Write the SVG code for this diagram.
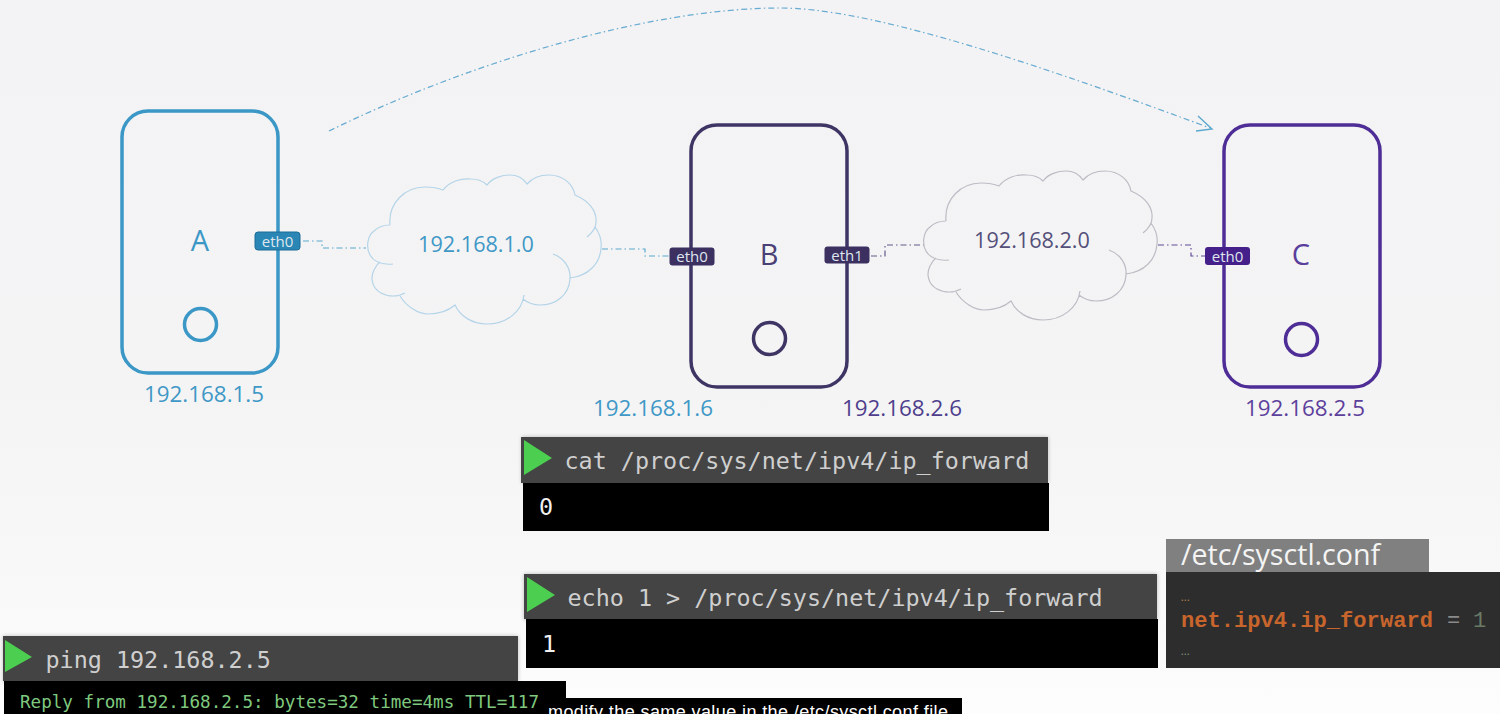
<svg xmlns="http://www.w3.org/2000/svg" width="1500" height="714" viewBox="0 0 1500 714">
<style>
.lbl{font-family:"Open Sans","Noto Sans",sans-serif}
.mono{font-family:"DejaVu Sans Mono",monospace;font-size:23.4px;fill:#cfcfcf}
.box{fill:none;stroke-width:3.5}
.conn{fill:none;stroke-width:1.2;stroke-dasharray:6 3 1.500 3;opacity:.85}
.cloud{fill:none;stroke-width:1.2}
.tag{font-family:"Open Sans","Noto Sans",sans-serif;font-size:15px;fill:#dfe6ee;text-anchor:middle}
.ip{font-family:"Open Sans","Noto Sans",sans-serif;font-size:22.400px;text-anchor:middle}
.cip{font-family:"Open Sans","Noto Sans",sans-serif;font-size:21.600px;text-anchor:middle}
.name{font-family:"Open Sans","Noto Sans",sans-serif;font-size:29px;text-anchor:middle}
</style>
<defs>
<linearGradient id="bg" x1="0" y1="0" x2="0" y2="1"><stop offset="0" stop-color="#f3f3f5"/><stop offset="0.55" stop-color="#f4f4f5"/><stop offset="0.8" stop-color="#f8f8f8"/><stop offset="1" stop-color="#fdfdfd"/></linearGradient>
<filter id="sh" x="-2%" y="-10%" width="104%" height="120%"><feGaussianBlur stdDeviation="2"/></filter>
<path id="cloudShape" d="M390 225C388 203 405 187 425 187C432 187 438 188 443 190C450 181 462 178 471 179C477 179 483 181 487 185C492 178 502 175 510 175C517 175 523 178 527 184C533 177 541 175 549 175C563 175 573 184 575 195C589 201 597 211 596 222C596 227 592 233 587 237M595 227C600 234 602 241 601 248C600 264 588 276 570 278M553 254C564 258 571 268 570 279C569 295 556 305 540 305C533 305 528 303 523 299M524 295C522 312 506 324 487 324C472 324 460 316 455 305C448 311 440 314 428 314C418 314 406 306 400 296M405 293C398 297 388 297 381 293C372 288 370 278 374 270C376 267 377 264 380 262M393 264C383 265 374 262 370 255C366 248 367 236 374 231C379 226 385 225 390 225"/>
</defs>
<rect width="1500" height="714" fill="url(#bg)"/>
<g id="connectors">
<path class="conn" stroke="#3f9cc8" d="M303 241H322V248H366"/>
<path class="conn" stroke="#3f9cc8" d="M602 249H645V256H669"/>
<path class="conn" stroke="#4a3f78" d="M871 256H885V245H924"/>
<path class="conn" stroke="#4a2d8c" d="M1158 245H1191V256H1205"/>
<path class="conn" stroke="#4f9fca" stroke-width="1.5" d="M329 131C470 62 650 8 780 8C860 8 1000 50 1210 128"/>
<path fill="none" stroke="#5ba8cf" stroke-width="1.4" d="M1198 116L1212 129L1196 131"/>
</g>
<g id="node-a">
<rect class="box" stroke="#3b97c6" x="122" y="111" width="156" height="262" rx="26"/>
<circle class="box" stroke="#3b97c6" cx="200.500" cy="324.500" r="16"/>
<text class="name" fill="#3b97c6" x="200" y="251">A</text>
<rect x="255" y="232" width="45" height="18" rx="3" fill="#2a86b4" stroke="#1c6c96"/>
<text class="tag" x="277.500" y="247">eth0</text>
<text class="ip" fill="#3f98c6" x="204" y="402">192.168.1.5</text>
</g>
<g id="cloud-1">
<use href="#cloudShape" class="cloud" stroke="#b4d4e8"/>
<text class="cip" fill="#3f98c6" x="476" y="252">192.168.1.0</text>
</g>
<g id="node-b">
<rect class="box" stroke="#3f3565" x="691" y="125" width="156" height="262" rx="26"/>
<circle class="box" stroke="#3f3565" cx="769.500" cy="338.500" r="16"/>
<text class="name" fill="#4a4075" x="769" y="265">B</text>
<rect x="669.500" y="247.500" width="45" height="18" rx="3" fill="#3b3060"/>
<text class="tag" x="692" y="262">eth0</text>
<rect x="824.500" y="246.500" width="45" height="17" rx="3" fill="#3b3060"/>
<text class="tag" x="847" y="261">eth1</text>
<text class="ip" fill="#3f98c6" x="653" y="416">192.168.1.6</text>
<text class="ip" fill="#4f3e8c" x="902" y="416">192.168.2.6</text>
</g>
<g id="cloud-2" transform="translate(556 -4)">
<use href="#cloudShape" class="cloud" stroke="#bcbcc4"/>
<text class="cip" fill="#55507a" x="476" y="252">192.168.2.0</text>
</g>
<g id="node-c">
<rect class="box" stroke="#4f2d96" x="1224" y="125" width="156" height="262" rx="26"/>
<circle class="box" stroke="#4f2d96" cx="1301.500" cy="339.500" r="16"/>
<text class="name" fill="#5a3e9c" x="1301" y="265">C</text>
<rect x="1205" y="247" width="45" height="18" rx="3" fill="#45208a"/>
<text class="tag" x="1227.500" y="262">eth0</text>
<text class="ip" fill="#5d3f9c" x="1305" y="416">192.168.2.5</text>
</g>
<g id="terminal-cat">
<rect x="522" y="437" width="526" height="46" fill="#000" opacity=".25" filter="url(#sh)"/>
<rect x="521" y="437" width="527" height="46" fill="#444"/>
<rect x="523" y="483" width="526" height="48" fill="#000"/>
<path d="M524 440L552 458L524 475Z" fill="#4ccf50"/>
<text class="mono" x="564.500" y="469">cat /proc/sys/net/ipv4/ip_forward</text>
<text class="mono" style="fill:#f0f0f0" x="539" y="515">0</text>
</g>
<g id="terminal-echo">
<rect x="524" y="574" width="633" height="46" fill="#000" opacity=".25" filter="url(#sh)"/>
<rect x="524" y="574" width="633" height="45" fill="#444"/>
<rect x="526" y="619" width="632" height="49" fill="#000"/>
<path d="M527 577L555 595L527 612Z" fill="#4ccf50"/>
<text class="mono" x="567.500" y="606">echo 1 &gt; /proc/sys/net/ipv4/ip_forward</text>
<text class="mono" style="fill:#f0f0f0" x="542" y="652">1</text>
</g>
<g id="file-sysctl">
<rect x="1166" y="539" width="263" height="33" fill="#808080"/>
<rect x="1166" y="572" width="334" height="96" fill="#2d2d2d"/>
<text class="lbl" x="1181" y="565" font-size="28.600" fill="#f4f4f4">/etc/sysctl.conf</text>
<g font-family="'Liberation Mono',monospace" font-size="22.100px">
<text x="1181" y="601" font-family="'Liberation Sans',sans-serif" font-weight="bold" font-size="9" letter-spacing="0.500" fill="#a87a4a">...</text>
<text x="1181" y="627" font-weight="bold" fill="#c8652c">net.ipv4.ip_forward</text>
<text x="1447" y="627" fill="#8a8a8a">=</text>
<text x="1473" y="627" fill="#6a7a66">1</text>
<text x="1181" y="655" font-family="'Liberation Sans',sans-serif" font-weight="bold" font-size="9" letter-spacing="0.500" fill="#7a8a76">...</text>
</g>
</g>
<g id="terminal-ping">
<rect x="3" y="636" width="515" height="46" fill="#000" opacity=".25" filter="url(#sh)"/>
<rect x="3" y="636" width="515" height="45" fill="#444"/>
<rect x="4" y="681" width="562" height="33" fill="#000"/>
<path d="M5 640L32 657L5 672Z" fill="#4ccf50"/>
<text class="mono" x="45.500" y="668">ping 192.168.2.5</text>
<text x="20" y="708" font-family="'DejaVu Sans Mono',monospace" font-size="17.600px" fill="#7fc97f">Reply from 192.168.2.5: bytes=32 time=4ms TTL=117</text>
</g>
<g id="caption">
<rect x="548" y="698" width="414" height="16" fill="#000"/>
<text x="548" y="718" font-family="'Liberation Sans',Arial,sans-serif" font-size="18" fill="#fff" textLength="400">modify the same value in the /etc/sysctl.conf file</text>
</g>
</svg>
